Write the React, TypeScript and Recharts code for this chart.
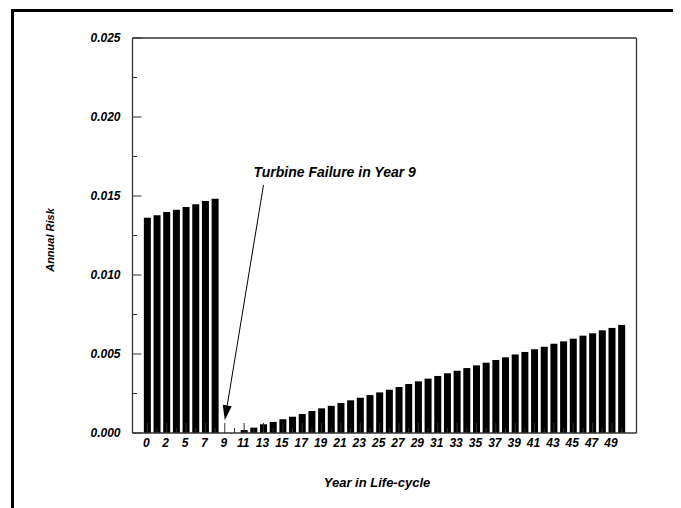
import React from 'react';
import { BarChart, Bar, XAxis, YAxis, ReferenceLine } from 'recharts';

const years = [0, 1, 2, 3, 5, 6, 7, 8, 9, 10, 11, 12, 13, 14, 15, 16, 17, 18, 19, 20, 21, 22, 23, 24, 25, 26, 27, 28, 29, 30, 31, 32, 33, 34, 35, 36, 37, 38, 39, 40, 41, 42, 43, 44, 45, 46, 47, 48, 49, 50];
const risk = [0.01363, 0.01378, 0.01399, 0.01413, 0.0143, 0.01447, 0.01468, 0.01483, 0, 0,
  0.00019, 0.00034, 0.00055, 0.0007, 0.00087, 0.00103, 0.0012, 0.00139, 0.00156, 0.00172,
  0.0019, 0.00207, 0.00223, 0.0024, 0.00257, 0.00274, 0.00291, 0.0031, 0.00327, 0.00344,
  0.00361, 0.00378, 0.00394, 0.00411, 0.00428, 0.00445, 0.00462, 0.00479, 0.00497, 0.00513,
  0.0053, 0.00546, 0.00565, 0.0058, 0.00597, 0.00616, 0.00631, 0.0065, 0.00665, 0.00684];
const yTicks = [0, 0.0025, 0.005, 0.0075, 0.01, 0.0125, 0.015, 0.0175, 0.02, 0.0225, 0.025];
const yMajorTicks = [0, 0.005, 0.01, 0.015, 0.02, 0.025];
const annotationText = 'Turbine Failure in Year 9';
const failureYear = 9;
const annotationStartYear = 13;
const annotationTip = 0.0008;
const annotationStart = 0.0157;

const data = years.map((y, i) => ({ year: y, risk: risk[i] }));

const FONT = '"Liberation Sans", Arial, sans-serif';
const AXIS = '#333333';
const AXIS_LINE = { stroke: AXIS, strokeWidth: 1.3 };

const YTick = (props: any) => {
  const { x, y, payload } = props;
  const v = payload.value;
  const major = yMajorTicks.some((m) => Math.abs(m - v) < 1e-9);
  const ax = x + 12;
  return (
    <g>
      <line x1={ax} x2={ax + (major ? 9 : 4.5)} y1={y} y2={y} stroke={AXIS} strokeWidth={1} />
      {major && (
        <text x={x} y={y + 4.3} textAnchor="end" fontFamily={FONT} fontWeight="bold" fontStyle="italic" fontSize={12} fill="#000">
          {v.toFixed(3)}
        </text>
      )}
    </g>
  );
};

const XTick = (props: any) => {
  const { x, y, payload, index } = props;
  const major = index % 2 === 0;
  return (
    <g>
      <line x1={x} x2={x} y1={y} y2={y - (major ? 10 : 5)} stroke={AXIS} strokeWidth={1} />
      {major && (
        <text x={x - 1} y={y + 13.5} textAnchor="middle" fontFamily={FONT} fontWeight="bold" fontStyle="italic" fontSize={12} fill="#000">
          {String(payload.value)}
        </text>
      )}
    </g>
  );
};

const ArrowShape = (props: any) => {
  const { x1, y1, x2, y2 } = props;
  if ([x1, y1, x2, y2].some((v) => typeof v !== 'number' || isNaN(v))) return <g />;
  const dx = x1 - x2;
  const dy = y1 - y2;
  const len = Math.sqrt(dx * dx + dy * dy);
  const ux = dx / len;
  const uy = dy / len;
  const bx = x1 - ux * 15;
  const by = y1 - uy * 15;
  const px = -uy * 4.5;
  const py = ux * 4.5;
  return (
    <g>
      <line x1={x2} y1={y2} x2={bx} y2={by} stroke="#000" strokeWidth={1} />
      <polygon points={`${x1},${y1} ${bx + px},${by + py} ${bx - px},${by - py}`} fill="#000" />
      <text x={x2 - 10} y={y2 - 8} fontFamily={FONT} fontWeight="bold" fontStyle="italic" fontSize={14} fill="#000">
        {annotationText}
      </text>
    </g>
  );
};

export default function App() {
  return (
    <div style={{ position: 'relative', width: 673, height: 500, overflow: 'hidden' }}>
      <div
        style={{
          position: 'absolute',
          left: 3,
          top: 1,
          width: 669,
          height: 520,
          border: '3px solid #000',
          boxSizing: 'border-box',
        }}
      />
      <div style={{ position: 'absolute', left: 0, top: 0 }}>
        <BarChart
          width={673}
          height={500}
          data={data}
          margin={{ top: 29, right: 43.5, left: 0, bottom: 0 }}
          barCategoryGap="14%"
        >
          <XAxis
            dataKey="year"
            type="category"
            interval={0}
            height={75}
            padding={{ left: 10, right: 10 }}
            axisLine={AXIS_LINE}
            tickSize={0}
            tickMargin={0}
            tickLine={false}
            tick={<XTick />}
            label={{
              content: () => (
                <text x={369} y={478.5} textAnchor="middle" fontFamily={FONT} fontWeight="bold" fontStyle="italic" fontSize={13} fill="#000">
                  Year in Life-cycle
                </text>
              ),
            }}
          />
          <XAxis
            xAxisId="top"
            dataKey="year"
            orientation="top"
            height={1}
            tick={false}
            tickLine={false}
            axisLine={AXIS_LINE}
          />
          <YAxis
            domain={[0, 0.025]}
            ticks={yTicks}
            interval={0}
            width={124.5}
            axisLine={AXIS_LINE}
            tickSize={0}
            tickMargin={12}
            tickLine={false}
            tick={<YTick />}
            label={{
              content: () => (
                <text x={46} y={232} transform="rotate(-90 46 232)" textAnchor="middle" fontFamily={FONT} fontWeight="bold" fontStyle="italic" fontSize={11} fill="#000">
                  Annual Risk
                </text>
              ),
            }}
          />
          <YAxis
            yAxisId="right"
            orientation="right"
            width={1}
            domain={[0, 0.025]}
            tick={false}
            tickLine={false}
            axisLine={AXIS_LINE}
          />
          <Bar dataKey="risk" fill="#000" isAnimationActive={false} />
          <ReferenceLine
            segment={[
              { x: failureYear, y: annotationTip },
              { x: annotationStartYear, y: annotationStart },
            ]}
            shape={<ArrowShape />}
          />
        </BarChart>
      </div>
    </div>
  );
}
